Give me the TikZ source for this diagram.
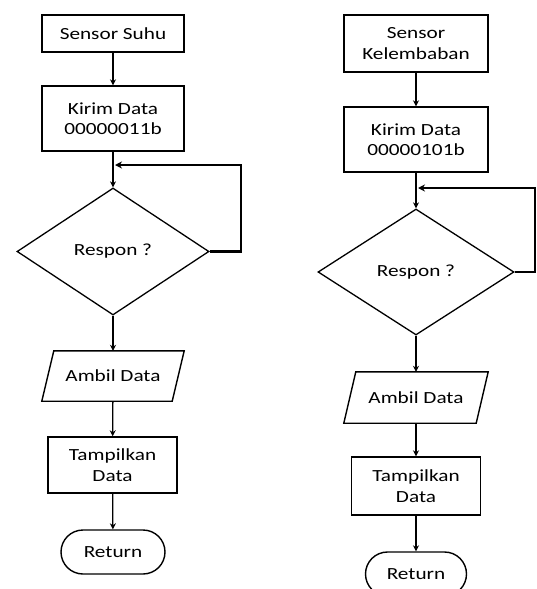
\documentclass[tikz,border=0pt]{standalone}
\usepackage{fontspec}
\setmainfont[FakeStretch=1.25]{Carlito}
\usetikzlibrary{shapes.geometric,shapes.misc,arrows.meta}
\begin{document}
\begin{tikzpicture}[x=1pt,y=-1pt,
  every node/.style={font=\fontsize{17}{20.5}\selectfont, align=center, inner sep=0pt},
  procbox/.style={draw, line width=1.4pt, rectangle},
  decbox/.style={draw, line width=1.3pt, diamond},
  iobox/.style={rectangle},
  endbox/.style={draw, line width=1.4pt, rounded rectangle},
  flow/.style={line width=1.3pt, -{Stealth[length=6pt,width=6pt]}},
  loopline/.style={line width=2.2pt, -{Stealth[length=7pt,width=7pt]}}
]
\useasboundingbox (0,0) rectangle (537,589);
% left column
\node[procbox, minimum width=142pt, minimum height=37pt] (s1) at (113,33.5) {Sensor Suhu};
\node[procbox, minimum width=142pt, minimum height=65pt] (k1) at (113,118.5) {Kirim Data\\00000011b};
\node[decbox, minimum width=192pt, minimum height=127pt] (d1) at (113,251.5) {Respon ?};
\node[iobox, minimum width=130pt, minimum height=50pt] (a1) at (113,376) {Ambil Data};
\draw[line width=1.4pt] ([xshift=6pt]a1.north west) -- ([xshift=6pt]a1.north east) -- ([xshift=-6pt]a1.south east) -- ([xshift=-6pt]a1.south west) -- cycle;
\node[procbox, minimum width=129pt, minimum height=56pt] (t1) at (112.5,465) {Tampilkan\\Data};
\node[endbox, minimum width=104pt, minimum height=44pt] (r1) at (113,552) {Return};
\coordinate (j1) at (115,165);
\draw[flow] (s1) -- (k1);
\draw[flow] (k1) -- (d1);
\draw[flow] (d1) -- (a1);
\draw[flow] (a1) -- (t1);
\draw[flow] (t1) -- (r1);
\draw[loopline] (d1.east) -- (241,251.5) |- (j1);
% right column
\node[procbox, minimum width=144pt, minimum height=57pt] (s2) at (416,43.5) {Sensor\\Kelembaban};
\node[procbox, minimum width=144pt, minimum height=65pt] (k2) at (416,139.5) {Kirim Data\\00000101b};
\node[decbox, minimum width=196pt, minimum height=126pt] (d2) at (416,272) {Respon ?};
\node[iobox, minimum width=132pt, minimum height=51pt] (a2) at (416,397.5) {Ambil Data};
\draw[line width=1.4pt] ([xshift=6pt]a2.north west) -- ([xshift=6pt]a2.north east) -- ([xshift=-6pt]a2.south east) -- ([xshift=-6pt]a2.south west) -- cycle;
\node[procbox, minimum width=129pt, minimum height=58pt] (t2) at (416,486) {Tampilkan\\Data};
\node[endbox, minimum width=101pt, minimum height=44pt] (r2) at (416,574) {Return};
\coordinate (j2) at (418,188);
\draw[flow] (s2) -- (k2);
\draw[flow] (k2) -- (d2);
\draw[flow] (d2) -- (a2);
\draw[flow] (a2) -- (t2);
\draw[flow] (t2) -- (r2);
\draw[loopline] (d2.east) -- (535,272) |- (j2);
\end{tikzpicture}
\end{document}
